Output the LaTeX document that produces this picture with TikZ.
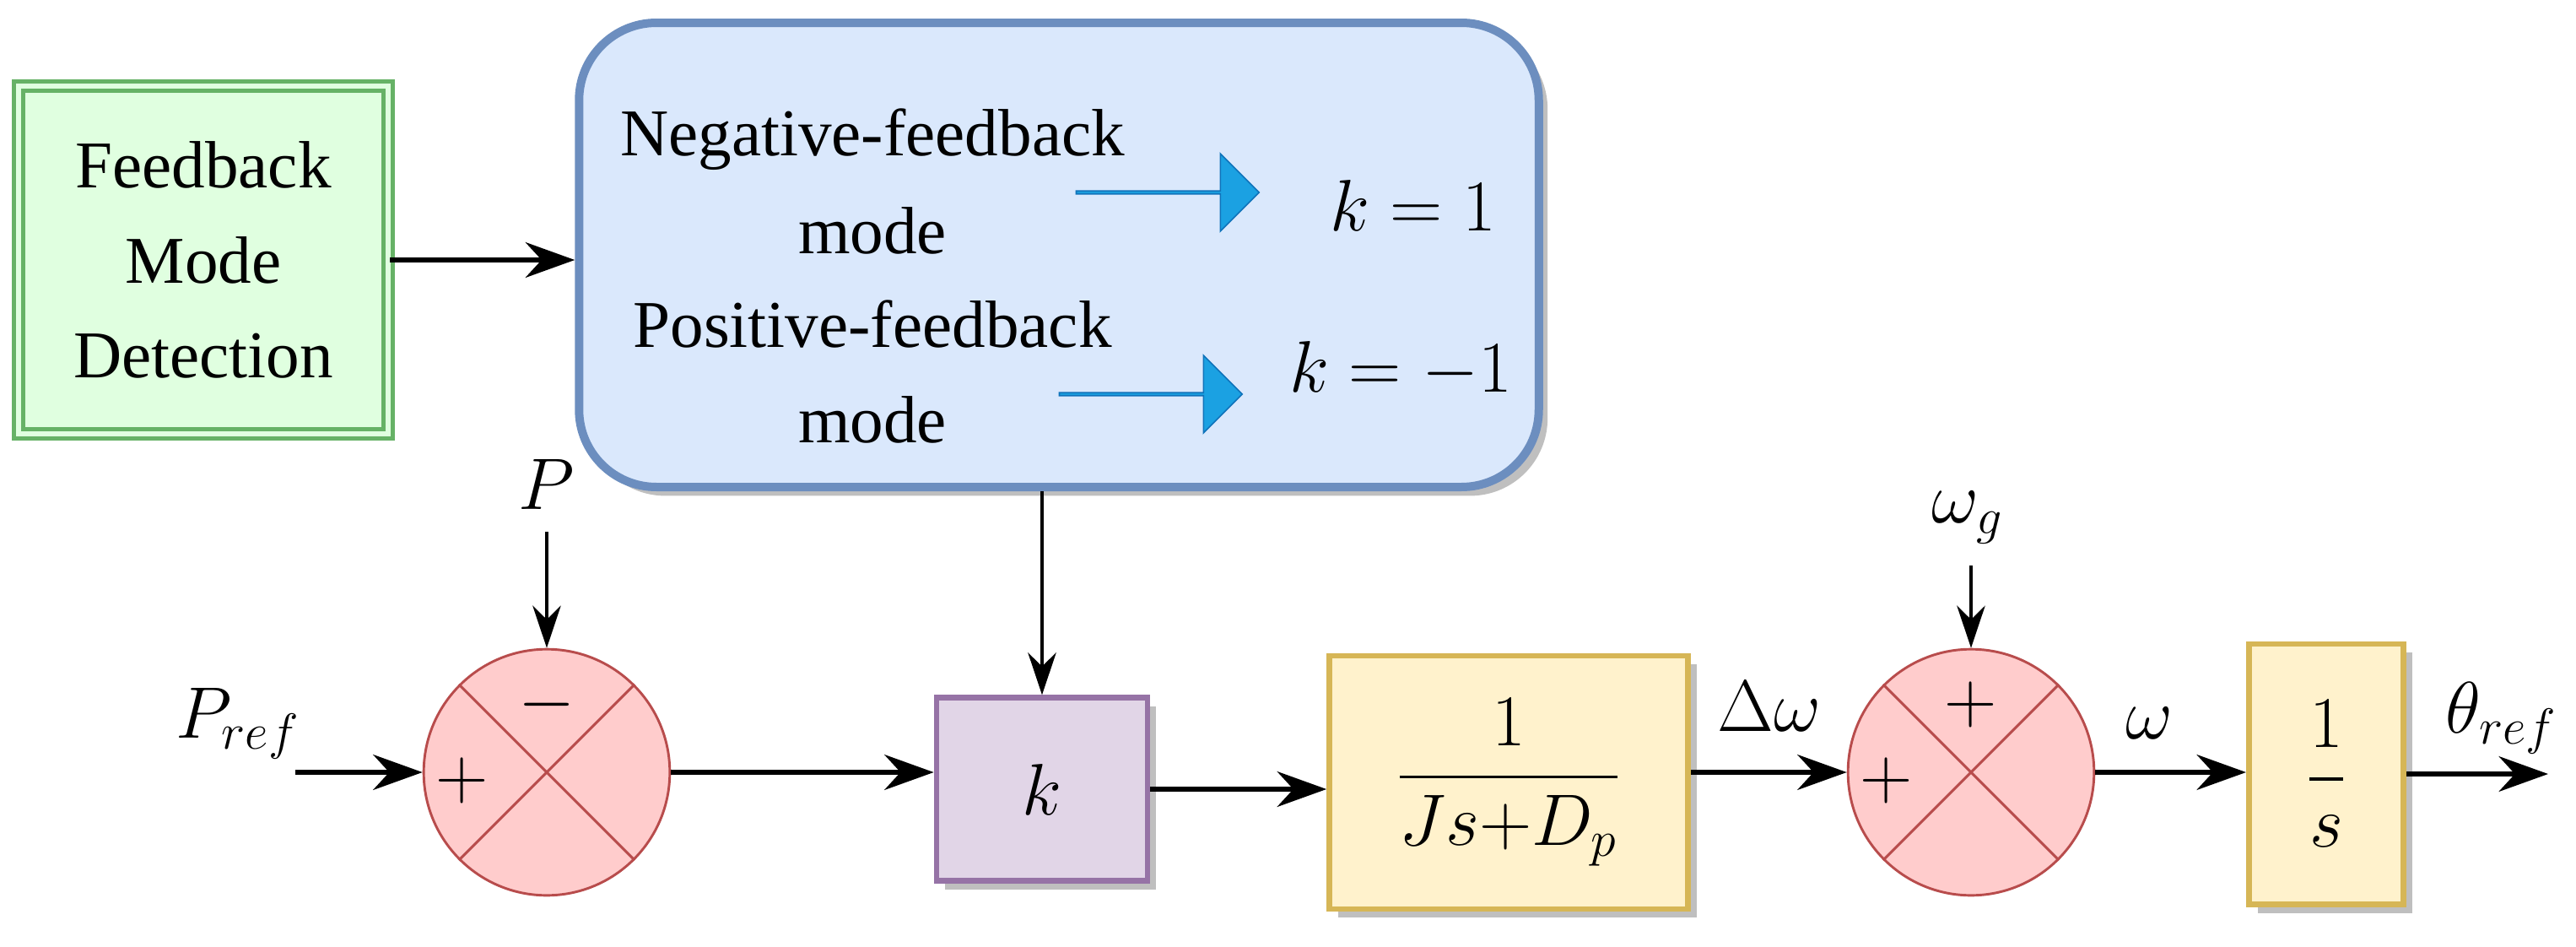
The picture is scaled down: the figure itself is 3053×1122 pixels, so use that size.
\documentclass[tikz,border=0pt]{standalone}
\usepackage{amsmath}
\usepackage{fontspec}
\setmainfont{Liberation Serif}
\usetikzlibrary{arrows.meta,shapes.arrows,shadows,calc}
\begin{document}
\begin{tikzpicture}[x=0.24pt,y=-0.24pt,
 txt/.style={font=\fontsize{19}{23}\selectfont},
 mth/.style={font=\fontsize{22}{26}\selectfont},
 conn/.style={line width=1.6pt,-{Stealth[length=14pt,width=10pt]}},
 thin/.style={line width=1.1pt,-{Stealth[length=12pt,width=8pt]}},
 shd/.style={drop shadow={shadow xshift=2.5pt,shadow yshift=-2.5pt,fill=black!25,opacity=1}},
 sumc/.style={circle,draw=red!60!black!70,fill=red!20,line width=0.7pt,minimum size=70pt,inner sep=0pt},
 blk/.style={draw,line width=1.6pt,shd}]
\useasboundingbox (0,0) rectangle (3053,1122);
% green box
\node[draw=green!50!black!60,double=green!12,double distance=1.5pt,fill=green!12,line width=1.2pt,minimum width=105pt,minimum height=99pt,txt,align=center,inner sep=0pt] (fmd) at (241,308) {Feedback\\[4pt]Mode\\[4pt]Detection};
% blue box
\node[draw={rgb,255:red,108;green,142;blue,191},fill={rgb,255:red,218;green,232;blue,252},line width=2.4pt,rounded corners=22pt,minimum width=273pt,minimum height=132pt,shd] (bb) at (1255,302) {};
\node[txt] (neg) at (1034,165) {Negative-feedback};
\node[txt] (m1) at (1034,273) {mode};
\node[txt] (pos) at (1034,384) {Positive-feedback};
\node[txt] (m2) at (1034,497) {mode};
\node[single arrow,draw={rgb,255:red,16;green,115;blue,186},fill={rgb,255:red,27;green,161;blue,226},minimum width=22pt,single arrow head extend=5pt,minimum height=52pt,inner sep=0pt] (a1) at (1383,228) {};
\node[single arrow,draw={rgb,255:red,16;green,115;blue,186},fill={rgb,255:red,27;green,161;blue,226},minimum width=22pt,single arrow head extend=5pt,minimum height=52pt,inner sep=0pt] (a2) at (1363,467) {};
\node[mth] (k1) at (1675,243) {$k=1$};
\node[mth] (k2) at (1660,438) {$k=-1$};
% sums
\node[sumc] (s1) at (648,915) {};
\node[sumc] (s2) at (2336,915) {};
\foreach \s in {s1,s2}{
 \draw[red!60!black!70,line width=0.7pt] (\s.north west)--(\s.south east) (\s.north east)--(\s.south west);}
\node[mth] at ($(s1.center)+(-100,10)$) {$+$};
\node[mth] at ($(s1.center)+(0,-80)$) {$-$};
\node[mth] at ($(s2.center)+(-100,10)$) {$+$};
\node[mth] at ($(s2.center)+(0,-80)$) {$+$};
% blocks
\node[blk,draw={rgb,255:red,150;green,115;blue,166},fill={rgb,255:red,225;green,213;blue,231},minimum width=60pt,minimum height=52pt,mth] (kb) at (1235,935) {$k$};
\node[blk,draw={rgb,255:red,214;green,182;blue,86},fill={rgb,255:red,255;green,242;blue,204},minimum width=102pt,minimum height=72pt,mth] (g) at (1788,927) {$\dfrac{1}{Js{+}D_p}$};
\node[blk,draw={rgb,255:red,214;green,182;blue,86},fill={rgb,255:red,255;green,242;blue,204},minimum width=44pt,minimum height=74pt,mth] (i) at (2757,917) {$\dfrac{1}{s}$};
% labels / free coordinates
\coordinate (pin) at (350,915);
\coordinate (pt) at (648,630);
\coordinate (wt) at (2336,670);
\coordinate (out) at (3020,917);
\node[mth] at (282,857) {$P_{ref}$};
\node[mth] at (648,574) {$P$};
\node[mth] at (2332,613) {$\omega_g$};
\node[mth] at (2097,837) {$\Delta\omega$};
\node[mth] at (2547,857) {$\omega$};
\node[mth] at (2965,851) {$\theta_{ref}$};
% connectors
\draw[conn] (fmd.east) -- (bb.west|-fmd.east);
\draw[conn] (pin) -- (s1.west);
\draw[thin] (pt) -- (s1.north);
\draw[conn] (s1.east) -- (kb.west|-s1.east);
\draw[thin] (kb.north|-bb.south) -- (kb.north);
\draw[conn] (kb.east) -- (g.west|-kb.east);
\draw[conn] (g.east|-s2.west) -- (s2.west);
\draw[thin] (wt) -- (s2.north);
\draw[conn] (s2.east) -- (i.west|-s2.east);
\draw[conn] (i.east) -- (out);
\end{tikzpicture}
\end{document}
